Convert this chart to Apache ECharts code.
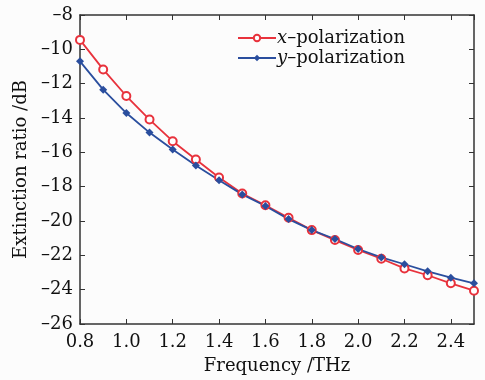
<!DOCTYPE html>
<html><head><meta charset="utf-8">
<script src="https://cdn.jsdelivr.net/npm/echarts@6/dist/echarts.min.js"></script>
<style>html,body{margin:0;padding:0;background:#fcfcfc}#c{width:485px;height:380px}</style>
</head><body><div id="c"></div>
<script>
const freq = [0.8,0.9,1.0,1.1,1.2,1.3,1.4,1.5,1.6,1.7,1.8,1.9,2.0,2.1,2.2,2.3,2.4,2.5];
const xPol = [-9.45,-11.17,-12.72,-14.09,-15.35,-16.42,-17.47,-18.40,-19.08,-19.81,-20.53,-21.11,-21.69,-22.20,-22.76,-23.16,-23.63,-24.06];
const yPol = [-10.70,-12.35,-13.71,-14.85,-15.84,-16.77,-17.62,-18.45,-19.13,-19.89,-20.53,-21.05,-21.63,-22.12,-22.52,-22.93,-23.30,-23.63];
const seriesNames = ['x', 'y'];
const font = 'DejaVu Serif';
const fs = 18;
const chart = echarts.init(document.getElementById('c'));
const axisCommon = {
  axisLine:{show:true,lineStyle:{color:'#333',width:1.5}},
  axisTick:{show:true,inside:true,length:5,lineStyle:{color:'#333'}},
  splitLine:{show:false}
};
chart.setOption({
  backgroundColor:'#fcfcfc',
  animation:false,
  grid:{left:80,right:11,top:15,bottom:55},
  legend:{
    left:232, top:23, orient:'vertical', itemGap:0, itemWidth:38, itemHeight:8,
    formatter: n => '{i|' + n + '}–polarization',
    textStyle:{fontFamily:font,fontSize:fs,color:'#111',lineHeight:20,padding:[0,0,0,-4],rich:{i:{fontFamily:font,fontStyle:'italic',fontSize:fs,color:'#111',lineHeight:20}}},
    data:[{name:seriesNames[0],itemStyle:{borderWidth:1.5}},{name:seriesNames[1]}]
  },
  xAxis:[
    Object.assign({type:'value',min:0.8,max:2.5,interval:0.2,position:'bottom',
      name:'Frequency /THz',nameLocation:'middle',nameGap:33,
      nameTextStyle:{fontFamily:font,fontSize:fs,color:'#111'},
      axisLabel:{fontFamily:font,fontSize:fs,color:'#111',margin:9,formatter:v=>v.toFixed(1),showMaxLabel:false}},axisCommon),
    Object.assign({type:'value',min:0.8,max:2.5,interval:0.2,position:'top',axisLabel:{show:false}},axisCommon)
  ],
  yAxis:[
    Object.assign({type:'value',min:-26,max:-8,interval:2,position:'left',
      name:'Extinction ratio /dB',nameLocation:'middle',nameGap:47,
      nameTextStyle:{fontFamily:font,fontSize:fs,color:'#111'},
      axisLabel:{fontFamily:font,fontSize:fs,color:'#111',margin:7,formatter:v=>String(v).replace('-','–')}},axisCommon),
    Object.assign({type:'value',min:-26,max:-8,interval:2,position:'right',axisLabel:{show:false}},axisCommon)
  ],
  series:[
    {name:seriesNames[0],type:'line',data:freq.map((f,i)=>[f,xPol[i]]),symbol:'emptyCircle',symbolSize:8,
      color:'#e8323c',lineStyle:{width:1.8,color:'#e8323c'},itemStyle:{color:'#e8323c',borderWidth:1.5}},
    {name:seriesNames[1],type:'line',data:freq.map((f,i)=>[f,yPol[i]]),symbol:'diamond',symbolSize:8,
      color:'#2a4e9e',lineStyle:{width:1.8,color:'#2a4e9e'},itemStyle:{color:'#2a4e9e'}}
  ]
});
</script></body></html>
